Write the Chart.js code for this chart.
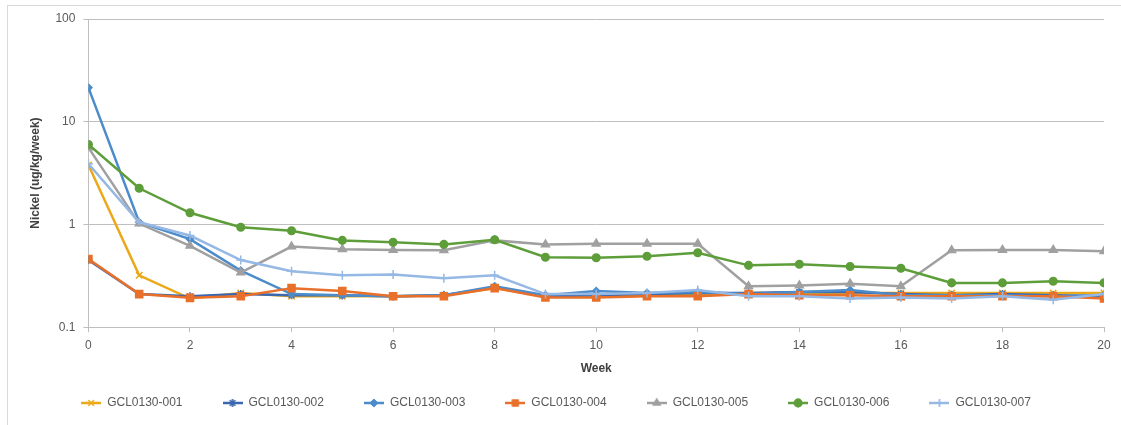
<!DOCTYPE html>
<html>
<head>
<meta charset="utf-8">
<script src="https://cdn.jsdelivr.net/npm/chart.js@4/dist/chart.umd.min.js"></script>
<style>
  body { margin: 0; background: #fff; }
  .chart-frame { position: absolute; left: 7px; top: 5px; width: 1120px; height: 425px; border-left: 1px solid #d9d9d9; border-top: 1px solid #d9d9d9; }
  #nickelChart { position: absolute; left: 0; top: 0; }
</style>
</head>
<body>
<div class="chart-frame"></div>
<canvas id="nickelChart" width="1121" height="425"></canvas>
<script>
// weeks on the x axis
const weeks = [0, 1, 2, 3, 4, 5, 6, 7, 8, 9, 10, 11, 12, 13, 14, 15, 16, 17, 18, 19, 20];

// nickel release, ug/kg/week, per sample
const gcl001 = [3.8, 0.32, 0.19, 0.215, 0.2, 0.2, 0.2, 0.205, 0.24, 0.2, 0.2, 0.205, 0.21, 0.215, 0.215, 0.215, 0.215, 0.215, 0.215, 0.215, 0.215];
const gcl002 = [0.45, 0.21, 0.2, 0.21, 0.205, 0.205, 0.2, 0.205, 0.245, 0.2, 0.205, 0.21, 0.215, 0.215, 0.22, 0.22, 0.21, 0.205, 0.21, 0.205, 0.2];
const gcl003 = [21.5, 1.05, 0.72, 0.355, 0.21, 0.205, 0.2, 0.205, 0.25, 0.205, 0.225, 0.215, 0.22, 0.21, 0.22, 0.23, 0.205, 0.205, 0.205, 0.2, 0.205];
const gcl004 = [0.46, 0.21, 0.193, 0.2, 0.24, 0.225, 0.2, 0.2, 0.24, 0.195, 0.195, 0.2, 0.2, 0.21, 0.205, 0.205, 0.2, 0.2, 0.2, 0.2, 0.19];
const gcl005 = [5.6, 1.02, 0.62, 0.34, 0.61, 0.575, 0.565, 0.56, 0.7, 0.64, 0.65, 0.65, 0.65, 0.25, 0.255, 0.265, 0.25, 0.56, 0.565, 0.565, 0.55];
const gcl006 = [6.0, 2.25, 1.3, 0.94, 0.87, 0.7, 0.67, 0.64, 0.71, 0.48, 0.475, 0.49, 0.53, 0.4, 0.41, 0.39, 0.375, 0.27, 0.27, 0.28, 0.27];
const gcl007 = [3.9, 1.05, 0.78, 0.45, 0.35, 0.32, 0.325, 0.3, 0.32, 0.21, 0.21, 0.215, 0.23, 0.2, 0.2, 0.19, 0.195, 0.19, 0.2, 0.185, 0.21];

const seriesNames = ['GCL0130-001', 'GCL0130-002', 'GCL0130-003', 'GCL0130-004', 'GCL0130-005', 'GCL0130-006', 'GCL0130-007'];
const yTicks = [0.1, 1, 10, 100];

const FONT = "'Liberation Sans', Arial, sans-serif";

const styles = [
  { color: '#EBA91A', marker: 'crossRot', radius: 4.5 },
  { color: '#3A67B0', marker: 'star', radius: 4 },
  { color: '#4D8CCB', marker: 'rectRot', radius: 3.5 },
  { color: '#E8702A', marker: 'rect', radius: 5 },
  { color: '#A0A0A0', marker: 'triangle', radius: 4.5 },
  { color: '#5E9E3A', marker: 'circle', radius: 3.8 },
  { color: '#95B8E4', marker: 'cross', radius: 4.5 },
];

// small line+marker image for the legend, like Excel does
function legendIcon(st) {
  const c = document.createElement('canvas');
  c.width = 20; c.height = 12;
  const ctx = c.getContext('2d');
  ctx.strokeStyle = st.color;
  ctx.lineWidth = 2.5;
  ctx.beginPath(); ctx.moveTo(0, 6); ctx.lineTo(20, 6); ctx.stroke();
  ctx.fillStyle = st.color;
  ctx.lineWidth = 1.2;
  Chart.helpers.drawPoint(ctx, { pointStyle: st.marker, radius: Math.min(st.radius, 4), borderWidth: 1.2, rotation: 0 }, 10, 6);
  ctx.fill();
  ctx.stroke();
  return c;
}

const allValues = [gcl001, gcl002, gcl003, gcl004, gcl005, gcl006, gcl007];

const datasets = allValues.map((vals, i) => ({
  label: seriesNames[i],
  data: weeks.map((w, j) => ({ x: w, y: vals[j] })),
  borderColor: styles[i].color,
  backgroundColor: styles[i].color,
  pointStyle: styles[i].marker,
  pointRadius: styles[i].radius,
  pointBorderWidth: 1.5,
  borderWidth: 2.5,
  showLine: true,
  tension: 0,
  order: 7 - i, // later series on top, as in the original
  icon: legendIcon(styles[i]),
}));

// legend padding is big to space items out; keep its box short and pull its top up
const legendSpacing = {
  id: 'legendSpacing',
  afterInit(chart) {
    const fit = chart.legend.fit;
    chart.legend.fit = function () {
      fit.call(this);
      this.height = 30;
    };
  },
  afterLayout(chart) {
    chart.legend.top -= 34;
    chart.legend.height += 34;
  },
};

new Chart(document.getElementById('nickelChart'), {
  type: 'scatter',
  data: { datasets },
  plugins: [legendSpacing],
  options: {
    responsive: false,
    animation: false,
    layout: { padding: { left: 8, right: 17, top: 19, bottom: 4 } },
    scales: {
      x: {
        type: 'linear',
        min: 0,
        max: 20,
        ticks: { stepSize: 2, color: '#595959', font: { family: FONT, size: 12 }, padding: 6 },
        grid: { drawOnChartArea: false, drawTicks: true, tickLength: 5, color: '#bfbfbf' },
        border: { color: '#bfbfbf', width: 1 },
        title: { display: true, text: 'Week', color: '#404040', font: { family: FONT, size: 12, weight: 'bold' }, padding: { top: 3, bottom: 15 } },
      },
      y: {
        type: 'logarithmic',
        min: 0.1,
        max: 100,
        afterBuildTicks: (scale) => { scale.ticks = yTicks.map(v => ({ value: v })); },
        ticks: { color: '#595959', font: { family: FONT, size: 12 }, padding: 8, callback: (v) => String(v) },
        grid: { color: '#bfbfbf', tickLength: 5 },
        border: { color: '#bfbfbf', width: 1 },
        title: { display: true, text: 'Nickel (ug/kg/week)', color: '#404040', font: { family: FONT, size: 12, weight: 'bold' }, padding: { top: 20, bottom: 5 } },
      },
    },
    plugins: {
      legend: {
        position: 'bottom',
        labels: {
          usePointStyle: true,
          pointStyleWidth: 20,
          padding: 40,
          color: '#595959',
          font: { family: FONT, size: 12 },
          sort: (a, b) => a.datasetIndex - b.datasetIndex,
          generateLabels: (chart) => chart.data.datasets.map((ds, i) => ({
            text: ds.label,
            datasetIndex: i,
            pointStyle: ds.icon,
            fillStyle: ds.borderColor,
            strokeStyle: ds.borderColor,
            fontColor: '#595959',
            lineWidth: 0,
            hidden: false,
          })),
        },
      },
      tooltip: { enabled: false },
    },
  },
});
</script>
</body>
</html>
